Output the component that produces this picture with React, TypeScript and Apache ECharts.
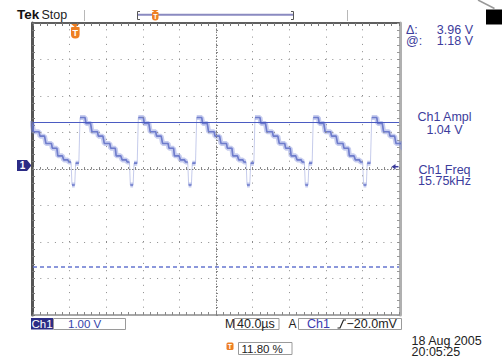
import React, { useEffect, useRef } from "react";
import * as echarts from "echarts";

// ---- data read from the screen ----
// time axis: µs relative to the screen centre (40 µs/div), volts relative to centre graticule (1 V/div)
const timeMin = -200;
const timeMax = 200;
const timePerDiv = 40;
const voltMin = -4;
const voltMax = 4;
const voltPerDiv = 1;

// one period of the stair-step trace: [µs after the rising edge, volts]
const cycleShape: [number, number][] = [
  [0, 1.41], [5.5, 1.41], [6.5, 1.25], [11.5, 1.25], [13, 1.02], [19, 1.02],
  [20, 0.9], [25, 0.9], [26.5, 0.7], [32.5, 0.7], [33.5, 0.57], [38.5, 0.57],
  [39.5, 0.36], [44.5, 0.36], [46, 0.25], [50.5, 0.25], [51.5, 0.19], [54, 0.19],
  [55, -0.44], [58, -0.44], [59, 0.16], [62.5, 0.16],
];
// rising edges seen on screen (µs)
const riseTimes = [-212.4, -148.6, -84.9, -21.1, 42.6, 106.3, 170.2];
// horizontal cursors (volts)
const cursorLevels = [1.27, -2.67];

const cursorReadouts = [
  ["\u0394:", "3.96 V"],
  ["@:", "1.18 V"],
];
const measurements = [
  ["Ch1 Ampl", "1.04 V"],
  ["Ch1 Freq", "15.75kHz"],
];
const channelScale = "1.00 V";
const timeBase = "40.0\u00b5s";
const triggerLevel = "\u221220.0mV";
const triggerPos = "11.80 %";
const dateLines = ["18 Aug 2005", "20:05:25"];

const FONT = '"Liberation Sans", Arial, sans-serif';
const BLUE = "#3c3c9c";
const ORANGE = "#ee7f22";

function txt(text: string, x: number, y: number, size: number, fill: string, align = "left", weight = "normal") {
  return {
    type: "text",
    x,
    y,
    silent: true,
    style: {
      text,
      fill,
      font: `${weight} ${size}px ${FONT}`,
      lineHeight: Math.round(size * 0.8),
      align,
      verticalAlign: "middle",
      textAlign: align,
      textVerticalAlign: "middle",
    },
  };
}

export default function App() {
  const ref = useRef<HTMLDivElement>(null);

  useEffect(() => {
    if (!ref.current) return;
    const chart = echarts.init(ref.current, undefined, { renderer: "svg" });

    const trace: any[] = [];
    riseTimes.forEach((t0) => cycleShape.forEach(([dt, v]) => trace.push([t0 + dt, v])));
    const thick: any[] = [];
    trace.forEach((p, i) => {
      if (i > 0 && Math.abs(p[1] - trace[i - 1][1]) > 0.3) thick.push([p[0], "-"]);
      thick.push(p);
    });

    // graticule lines (one per division, centre lines separately)
    const dotStyle = { color: "#8c8c8c", width: 1, type: [1, 6.3] };
    const centreStyle = { color: "#7d7d7d", width: 1, type: [1.5, 1.5] };
    const graticule: any[] = [];
    for (let t = timeMin + timePerDiv; t < timeMax; t += timePerDiv) {
      graticule.push({ xAxis: t, lineStyle: t === 0 ? centreStyle : dotStyle });
    }
    for (let v = voltMin + voltPerDiv; v < voltMax; v += voltPerDiv) {
      graticule.push({ yAxis: v, lineStyle: v === 0 ? centreStyle : dotStyle });
    }

    const baseX = {
      type: "value",
      min: timeMin,
      max: timeMax,
      interval: timePerDiv,
      axisLabel: { show: false },
      splitLine: { show: false },
    };
    const baseY = {
      type: "value",
      min: voltMin,
      max: voltMax,
      interval: voltPerDiv,
      axisLabel: { show: false },
      splitLine: { show: false },
    };
    const tick = (inside: boolean, len: number, color: string) => ({
      axisTick: { show: true, inside, length: len, lineStyle: { color, width: 1 } },
      minorTick: { show: true, splitNumber: 5, length: len, lineStyle: { color, width: 1 } },
    });

    const option: any = {
      animation: false,
      backgroundColor: "#ffffff",
      grid: { left: 33, top: 23, width: 366, height: 292, containLabel: false, outerBoundsMode: "none" },
      xAxis: [
        { ...baseX, ...tick(true, 2, "#8a8a8a"), axisLine: { show: false, onZero: true } },
        { ...baseX, ...tick(false, 2, "#8a8a8a"), axisLine: { show: false, onZero: true } },
        {
          ...baseX,
          position: "top",
          ...tick(true, 3, "#777"),
          axisLine: { show: true, onZero: false, lineStyle: { color: "#5f5f5f", width: 2 } },
        },
        {
          ...baseX,
          position: "bottom",
          ...tick(true, 3, "#888"),
          axisLine: { show: true, onZero: false, lineStyle: { color: "#8a8a8a", width: 1.5 } },
        },
      ],
      yAxis: [
        { ...baseY, ...tick(true, 2, "#8a8a8a"), axisLine: { show: false, onZero: true } },
        { ...baseY, ...tick(false, 2, "#8a8a8a"), axisLine: { show: false, onZero: true } },
        {
          ...baseY,
          position: "left",
          offset: 1,
          ...tick(true, 3, "#777"),
          axisLine: { show: true, onZero: false, lineStyle: { color: "#555", width: 3 } },
        },
        {
          ...baseY,
          position: "right",
          offset: 1,
          ...tick(true, 3, "#999"),
          axisLine: { show: true, onZero: false, lineStyle: { color: "#b0b0b0", width: 3 } },
        },
      ],
      series: [
        {
          // carrier for the graticule dots (invisible line)
          type: "line",
          data: trace,
          symbol: "none",
          silent: true,
          z: 1,
          lineStyle: { opacity: 0 },
          markLine: {
            silent: true,
            symbol: ["none", "none"],
            label: { show: false },
            data: graticule,
          },
        },
        {
          type: "line",
          data: thick,
          symbol: "none",
          silent: true,
          z: 3,
          connectNulls: false,
          lineStyle: { width: 5, color: "rgba(130,145,220,0.45)" },
        },
        {
          type: "line",
          data: thick,
          symbol: "none",
          silent: true,
          z: 4,
          connectNulls: false,
          lineStyle: { width: 1.6, color: "rgba(90,105,195,0.8)" },
        },
        {
          type: "line",
          data: trace,
          symbol: "none",
          silent: true,
          z: 4,
          lineStyle: { width: 1, color: "rgba(110,125,205,0.4)" },
          markLine: {
            silent: true,
            symbol: ["none", "none"],
            label: { show: false },
            data: [
              { yAxis: cursorLevels[0], lineStyle: { color: "#4b5bc2", width: 1, type: "solid" } },
              { yAxis: cursorLevels[1], lineStyle: { color: "#6676d0", width: 1.5, type: [4, 3] } },
            ],
          },
        },
      ],
      graphic: [
        txt("Tek", 17, 14.5, 13.5, "#111", "left", "bold"),
        txt("Stop", 41.5, 14.5, 12.5, "#222"),
        { type: "line", silent: true, shape: { x1: 84.5, y1: 10, x2: 84.5, y2: 21 }, style: { stroke: "#b8b8b8", lineWidth: 1 } },
        { type: "line", silent: true, shape: { x1: 347.5, y1: 10, x2: 347.5, y2: 21 }, style: { stroke: "#b8b8b8", lineWidth: 1 } },
        { type: "line", silent: true, shape: { x1: 137, y1: 14.7, x2: 294, y2: 14.7 }, style: { stroke: "#8a8ac0", lineWidth: 2 } },
        { type: "polyline", silent: true, shape: { points: [[140, 11.5], [137.5, 11.5], [137.5, 19.5], [140, 19.5]] }, style: { stroke: "#555", lineWidth: 1, fill: null } },
        { type: "polyline", silent: true, shape: { points: [[291, 11.5], [293.5, 11.5], [293.5, 19.5], [291, 19.5]] }, style: { stroke: "#555", lineWidth: 1, fill: null } },
        // trigger marker on record bar
        { type: "polygon", silent: true, shape: { points: [[151.5, 10], [158.5, 10], [155, 12.5]] }, style: { fill: ORANGE } },
        { type: "rect", silent: true, shape: { x: 152, y: 12, width: 6.5, height: 8.5, r: [1, 1, 3, 3] }, style: { fill: ORANGE } },
        txt("T", 155.3, 16.3, 7, "#fff", "center", "bold"),
        // trigger marker on graticule
        { type: "polygon", silent: true, shape: { points: [[70.5, 23.5], [80, 23.5], [75.3, 27.5]] }, style: { fill: ORANGE } },
        { type: "rect", silent: true, shape: { x: 71, y: 27, width: 8.6, height: 11.5, r: [1, 1, 4, 4] }, style: { fill: ORANGE } },
        txt("T", 75.3, 32.5, 9, "#fff", "center", "bold"),
        // ground marker
        { type: "polygon", silent: true, shape: { points: [[17, 160], [27, 160], [31.5, 165.5], [27, 171], [17, 171]] }, style: { fill: "#2b2b85" } },
        txt("1", 22.5, 165.7, 10, "#fff", "center", "bold"),
        // trigger level arrow
        { type: "polygon", silent: true, shape: { points: [[391.5, 166.7], [395.5, 164], [395.5, 169.4]] }, style: { fill: "#3a3a9a" } },
        { type: "line", silent: true, shape: { x1: 395, y1: 166.7, x2: 398.5, y2: 166.7 }, style: { stroke: "#3a3a9a", lineWidth: 1.5 } },
        // cursor readouts
        txt(cursorReadouts[0][0], 406, 29.7, 12.5, BLUE),
        txt(cursorReadouts[0][1], 473, 29.7, 12.5, BLUE, "right"),
        txt(cursorReadouts[1][0], 406, 40.5, 12.5, BLUE),
        txt(cursorReadouts[1][1], 473, 40.5, 12.5, BLUE, "right"),
        // measurements
        txt(measurements[0][0], 444.5, 117, 12.5, BLUE, "center"),
        txt(measurements[0][1], 444.5, 129.5, 12.5, BLUE, "center"),
        txt(measurements[1][0], 444.5, 169.5, 12.5, BLUE, "center"),
        txt(measurements[1][1], 444.5, 181.3, 12.5, BLUE, "center"),
        // top-right corner
        { type: "rect", silent: true, shape: { x: 486, y: 9.5, width: 16, height: 15 }, style: { fill: "#000" } },
        { type: "line", silent: true, shape: { x1: 478, y1: 0, x2: 494.5, y2: 8.5 }, style: { stroke: "#999", lineWidth: 1.5 } },
        // bottom status line
        { type: "rect", silent: true, shape: { x: 31, y: 318, width: 22, height: 11.5 }, style: { fill: "#2c2c86" } },
        txt("Ch1", 42, 324, 11.5, "#fff", "center"),
        { type: "rect", silent: true, shape: { x: 53.5, y: 318.5, width: 72, height: 11 }, style: { fill: null, stroke: "#9a9a9a", lineWidth: 1 } },
        txt(channelScale, 68, 324, 11.5, "#3344aa"),
        txt("M", 225, 324, 12, "#222"),
        { type: "rect", silent: true, shape: { x: 234.5, y: 318.5, width: 44.5, height: 11 }, style: { fill: null, stroke: "#9a9a9a", lineWidth: 1 } },
        txt(timeBase, 237, 324, 12.5, "#222"),
        txt("A", 288.5, 324, 12, "#222"),
        { type: "rect", silent: true, shape: { x: 298.5, y: 318.5, width: 103, height: 11 }, style: { fill: null, stroke: "#9a9a9a", lineWidth: 1 } },
        txt("Ch1", 307, 324, 12.5, "#3a3ab0"),
        { type: "polyline", silent: true, shape: { points: [[337.5, 328], [340, 328], [343.5, 320], [346, 320]] }, style: { stroke: "#222", lineWidth: 1.2, fill: null } },
        txt(triggerLevel, 346.5, 324, 12.5, "#222"),
        { type: "rect", silent: true, shape: { x: 226.5, y: 342.5, width: 7, height: 7.5, r: 1.5 }, style: { fill: ORANGE } },
        txt("T", 230, 346.4, 7, "#fff", "center", "bold"),
        { type: "rect", silent: true, shape: { x: 238.5, y: 342.5, width: 53.5, height: 12 }, style: { fill: null, stroke: "#9a9a9a", lineWidth: 1 } },
        txt(triggerPos, 241.5, 348.7, 11.5, "#222"),
        txt(dateLines[0], 411.5, 340.5, 12.5, "#222"),
        txt(dateLines[1], 411.5, 352, 12.5, "#222"),
      ],
    };

    chart.setOption(option);
    return () => chart.dispose();
  }, []);

  return (
    <div
      ref={ref}
      style={{ position: "fixed", left: 0, top: 0, width: 502, height: 361, background: "#fff" }}
    />
  );
}
